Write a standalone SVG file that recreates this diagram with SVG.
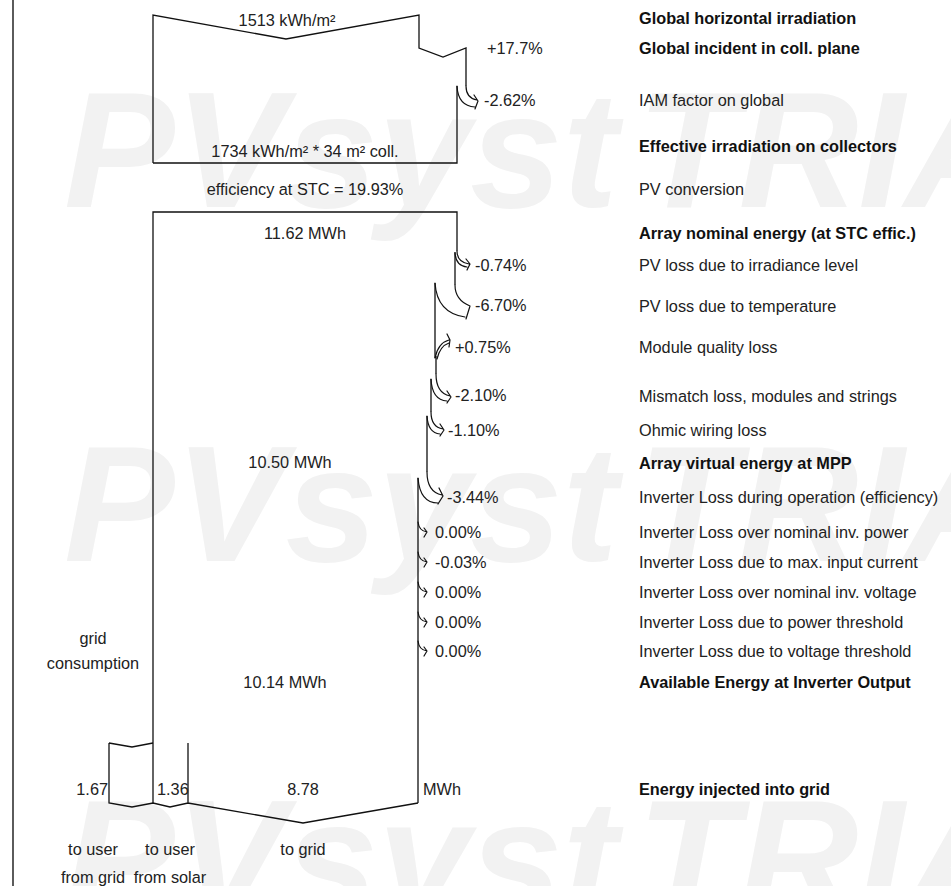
<svg xmlns="http://www.w3.org/2000/svg" width="951" height="886" viewBox="0 0 951 886">
<style>
text{font-family:"Liberation Sans",Arial,sans-serif;font-size:16.3px;fill:#222}
.b{font-weight:bold;fill:#111}
.m{text-anchor:middle}
.e{text-anchor:end}
.wm{font-size:166px;font-weight:bold;font-style:italic;fill:#f2f2f2}
.ln{fill:none;stroke:#111;stroke-width:1.3;stroke-linejoin:miter}
.lc{fill:none;stroke:#111;stroke-width:1.2;stroke-linecap:round;stroke-linejoin:round}
</style>
<rect x="0" y="0" width="951" height="886" fill="#fff"/>
<g id="watermark">
<text class="wm" x="64" y="207">PVsyst</text><text class="wm" x="637" y="207">TRIAL</text>
<text class="wm" x="64" y="561">PVsyst</text><text class="wm" x="637" y="561">TRIAL</text>
<text class="wm" x="64" y="915">PVsyst</text><text class="wm" x="637" y="915">TRIAL</text>
</g>
<line x1="13" y1="0" x2="13" y2="886" stroke="#333" stroke-width="1.6"/>
<g id="irradiation-box">
<path class="ln" d="M153,163 L153,15 L286,39 L419,15 L419,48 L443,57 L466,48 L466,86 M457,86 L457,163 L153,163"/>
<text class="m" x="287" y="26">1513 kWh/m²</text>
<text class="m" x="305" y="157">1734 kWh/m² * 34 m² coll.</text>
</g>
<text class="m" x="305" y="195">efficiency at STC = 19.93%</text>
<g id="array-box">
<path class="ln" d="M153,803 L153,212 L457,212 L457,251 M455,252 L455,285 M435,283 L435,358 M436,356 L436,374 M431,379 L431,412 M427,416 L427,472 M418,478 L418,803"/>
<text class="m" x="305" y="239">11.62 MWh</text>
<text class="m" x="290" y="468">10.50 MWh</text>
<text class="m" x="285" y="688">10.14 MWh</text>
</g>
<g id="grid-split">
<path class="ln" d="M109,743 L132,747 L153,743 M109,743 L109,803 L132,807 L153,803 L170,807 L188,803 L303,823 L418,803 M188,743 L188,803"/>
<text class="e" x="108" y="795">1.67</text>
<text x="157" y="795">1.36</text>
<text class="m" x="303" y="795">8.78</text>
<text x="423" y="795">MWh</text>
<text class="m" x="93" y="644">grid</text>
<text class="m" x="93" y="669">consumption</text>
<text class="m" x="93" y="855">to user</text>
<text class="m" x="93" y="883">from grid</text>
<text class="m" x="170" y="855">to user</text>
<text class="m" x="170" y="883">from solar</text>
<text class="m" x="303" y="855">to grid</text>
</g>
<g id="connectors">
<path class="lc" d="M466,86 Q466,98 477,100 M457,86 Q458,106 475,107 M474,95 L478,101 L475,109"/>
<path class="lc" d="M457,251 Q457,262 469,264 M455,253 Q456,266 467,267 M466,259 L470,264 L467,270"/>
<path class="lc" d="M455,285 Q455,300 470,306 M435,283 Q437,313 465,317 M470,306 L466,319"/>
<path class="lc" d="M435,358 Q438,343 449,340 M437,359 Q440,346 449,343 M447,334 L450,340 L449,347"/>
<path class="lc" d="M436,374 Q436,393 450,396 M431,379 Q432,400 447,401 M447,391 L451,397 L447,403"/>
<path class="lc" d="M431,412 Q431,427 443,429 M427,416 Q428,433 440,434 M440,424 L444,430 L440,436"/>
<path class="lc" d="M427,472 Q427,492 442,495 M418,478 Q420,503 438,503 M439,488 L443,496 L438,504"/>
<path class="lc" d="M418,522 Q419,531 427,532 M424,528 L427,532 L424,537"/>
<path class="lc" d="M418,552 Q419,561 427,562 M424,558 L427,562 L424,567"/>
<path class="lc" d="M418,582 Q419,591 427,592 M424,588 L427,592 L424,597"/>
<path class="lc" d="M418,612 Q419,621 427,622 M424,618 L427,622 L424,627"/>
<path class="lc" d="M418,641 Q419,650 427,651 M424,647 L427,651 L424,656"/>
</g>
<g id="loss-values">
<text x="487" y="54">+17.7%</text>
<text x="484" y="106">-2.62%</text>
<text x="475" y="271">-0.74%</text>
<text x="475" y="311">-6.70%</text>
<text x="455" y="353">+0.75%</text>
<text x="455" y="401">-2.10%</text>
<text x="448" y="436">-1.10%</text>
<text x="447" y="503">-3.44%</text>
<text x="435" y="538">0.00%</text>
<text x="435" y="568">-0.03%</text>
<text x="435" y="598">0.00%</text>
<text x="435" y="628">0.00%</text>
<text x="435" y="657">0.00%</text>
</g>
<g id="legend">
<text class="b" x="639" y="24">Global horizontal irradiation</text>
<text class="b" x="639" y="54">Global incident in coll. plane</text>
<text x="639" y="106">IAM factor on global</text>
<text class="b" x="639" y="152">Effective irradiation on collectors</text>
<text x="639" y="195">PV conversion</text>
<text class="b" x="639" y="239">Array nominal energy (at STC effic.)</text>
<text x="639" y="271">PV loss due to irradiance level</text>
<text x="639" y="312">PV loss due to temperature</text>
<text x="639" y="353">Module quality loss</text>
<text x="639" y="402">Mismatch loss, modules and strings</text>
<text x="639" y="436">Ohmic wiring loss</text>
<text class="b" x="639" y="469">Array virtual energy at MPP</text>
<text x="639" y="503">Inverter Loss during operation (efficiency)</text>
<text x="639" y="538">Inverter Loss over nominal inv. power</text>
<text x="639" y="568">Inverter Loss due to max. input current</text>
<text x="639" y="598">Inverter Loss over nominal inv. voltage</text>
<text x="639" y="628">Inverter Loss due to power threshold</text>
<text x="639" y="657">Inverter Loss due to voltage threshold</text>
<text class="b" x="639" y="688">Available Energy at Inverter Output</text>
<text class="b" x="639" y="795">Energy injected into grid</text>
</g>
</svg>
